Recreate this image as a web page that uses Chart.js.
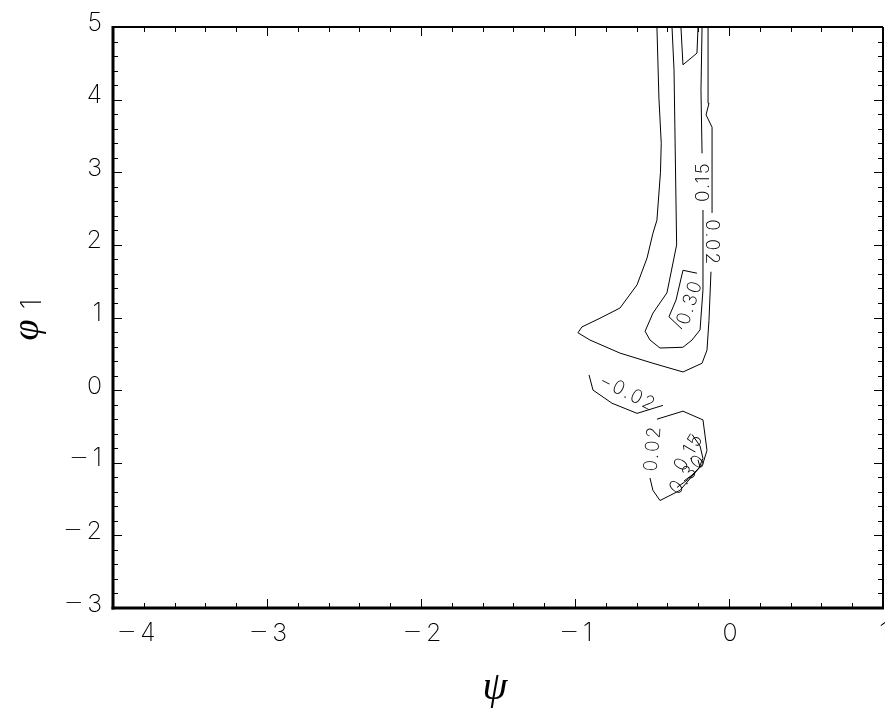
<!DOCTYPE html>
<html>
<head>
<meta charset="utf-8">
<script src="https://cdn.jsdelivr.net/npm/chart.js@4"></script>
<style>
  html, body { margin: 0; padding: 0; background: #fff; }
  canvas { display: block; }
</style>
</head>
<body>
<canvas id="contourChart" width="885" height="713"></canvas>
<script>
// axis ticks
const xTickValues = [-4, -3, -2, -1, 0, 1];
const xTickLabels = ['\u22124', '\u22123', '\u22122', '\u22121', '0', '1'];
const yTickValues = [-3, -2, -1, 0, 1, 2, 3, 4, 5];
const yTickLabels = ['\u22123', '\u22122', '\u22121', '0', '1', '2', '3', '4', '5'];

// outer 0.02 contour, split where its label sits
const c002RightX = [-0.110, -0.110, -0.149, -0.130, -0.136];
const c002RightY = [2.44, 3.62, 3.79, 3.95, 5.00];
const c002MainX = [-0.468, -0.455, -0.440, -0.445, -0.468, -0.494, -0.532, -0.597, -0.708, -0.838, -0.955, -0.981, -0.903, -0.708, -0.494, -0.299, -0.175, -0.143, -0.130, -0.117];
const c002MainY = [5.00, 4.02, 3.40, 3.00, 2.34, 2.16, 1.82, 1.45, 1.13, 0.99, 0.87, 0.79, 0.69, 0.51, 0.37, 0.25, 0.37, 0.55, 0.96, 1.63];

// 0.15 contour
const c015RightX = [-0.175, -0.182, -0.175];
const c015RightY = [3.26, 4.13, 5.00];
const c015MainX = [-0.370, -0.357, -0.340, -0.403, -0.494, -0.545, -0.513, -0.448, -0.299, -0.240, -0.188, -0.169, -0.169];
const c015MainY = [5.00, 4.41, 2.00, 1.34, 1.06, 0.81, 0.69, 0.58, 0.59, 0.69, 0.83, 1.38, 2.48];

// 0.30 contours
const c030TopX = [-0.312, -0.299, -0.208, -0.201];
const c030TopY = [5.00, 4.48, 4.64, 5.00];
const c030LoopX = [-0.208, -0.299, -0.344, -0.390, -0.305];
const c030LoopY = [1.61, 1.65, 1.24, 1.01, 0.84];

// -0.02 contour
const cm002X = [-0.909, -0.883, -0.760, -0.597, -0.429];
const cm002Y = [0.21, 0.00, -0.18, -0.32, -0.21];

// lower island
const c002LowX = [-0.468, -0.299, -0.169, -0.143, -0.169, -0.318, -0.448, -0.494, -0.513];
const c002LowY = [-0.40, -0.29, -0.41, -0.83, -1.01, -1.38, -1.52, -1.38, -1.21];
const c015LowX = [-0.240, -0.188, -0.169, -0.195, -0.266, -0.338];
const c015LowY = [-0.61, -0.77, -0.94, -1.07, -1.23, -1.34];
const c030LowX = [-0.201, -0.188, -0.240, -0.292];
const c030LowY = [-0.96, -1.06, -1.17, -1.25];

// contour labels
const labelTexts = ['0.15', '0.02', '0.30', '\u22120.02', '0.02', '0.15', '0.30'];
const labelX = [-0.169, -0.110, -0.253, -0.656, -0.494, -0.260, -0.266];
const labelY = [2.87, 2.03, 1.21, -0.04, -0.80, -0.85, -1.16];
const labelAngle = [-90, 90, -72, 27, -85, -60, -50];

const FONT = 'Inter, "DejaVu Sans", sans-serif';
const MINUS_FONT = '200 23px "DejaVu Sans", sans-serif';
const DIGIT_FONT = '200 25px ' + FONT;
const TITLE_FONT = '"Liberation Serif", "DejaVu Serif", serif';
const MINUS_GAP = 4;

function contour(xs, ys) {
    return {
        data: xs.map((v, i) => ({ x: v, y: ys[i] })),
        showLine: true,
        borderColor: '#000',
        borderWidth: 1,
        pointRadius: 0,
        tension: 0,
        fill: false
    };
}

function stroke(ctx, x1, y1, x2, y2) {
    ctx.beginPath();
    ctx.moveTo(x1, y1);
    ctx.lineTo(x2, y2);
    ctx.stroke();
}

// tick labels get a long minus sign from DejaVu, digits from Inter
function tickLabelWidth(ctx, text) {
    const neg = text[0] === '\u2212';
    ctx.font = DIGIT_FONT;
    const dw = ctx.measureText(neg ? text.slice(1) : text).width;
    if (!neg) return dw;
    ctx.font = MINUS_FONT;
    return ctx.measureText('\u2212').width + MINUS_GAP + dw;
}

function drawTickLabel(ctx, text, left, cy) {
    let x = left;
    if (text[0] === '\u2212') {
        ctx.font = MINUS_FONT;
        ctx.fillText('\u2212', x, cy);
        x += ctx.measureText('\u2212').width + MINUS_GAP;
        text = text.slice(1);
    }
    ctx.font = DIGIT_FONT;
    ctx.fillText(text, x, cy);
}

const framePlugin = {
    id: 'frame',
    afterDraw(chart) {
        const { ctx, chartArea: a } = chart;
        const xs = chart.scales.x;
        const ys = chart.scales.y;
        ctx.save();
        ctx.strokeStyle = '#000';
        ctx.fillStyle = '#000';

        // inward ticks, every 0.2
        ctx.lineWidth = 1;
        for (let i = 0; i <= 25; i++) {
            const v = -4 + i * 0.2;
            const major = Math.abs(v - Math.round(v)) < 1e-6;
            const len = major ? 9 : 5;
            const px = Math.round(xs.getPixelForValue(v)) + 0.5;
            stroke(ctx, px, a.bottom, px, a.bottom - len);
            stroke(ctx, px, a.top, px, a.top + len);
        }
        for (let i = 0; i <= 40; i++) {
            const v = -3 + i * 0.2;
            const major = Math.abs(v - Math.round(v)) < 1e-6;
            const len = major ? 9 : 5;
            const py = Math.round(ys.getPixelForValue(v)) + 0.5;
            stroke(ctx, a.left, py, a.left + len, py);
            stroke(ctx, a.right, py, a.right - len, py);
        }

        // frame
        ctx.lineWidth = 2;
        stroke(ctx, a.left, a.top, a.right, a.top);
        stroke(ctx, a.right, a.top, a.right, a.bottom);
        ctx.lineWidth = 3;
        stroke(ctx, a.left, a.top - 1, a.left, a.bottom + 1.5);
        stroke(ctx, a.left - 1.5, a.bottom, a.right + 1, a.bottom);

        // tick labels
        ctx.letterSpacing = '0px';
        ctx.textBaseline = 'middle';
        ctx.textAlign = 'left';
        xTickValues.forEach((v, i) => {
            const w = tickLabelWidth(ctx, xTickLabels[i]);
            let left = xs.getPixelForValue(v) - w / 2 + 1;
            if (left < a.left + 4) left = a.left + 4;
            drawTickLabel(ctx, xTickLabels[i], left, 633);
        });
        yTickValues.forEach((v, i) => {
            const w = tickLabelWidth(ctx, yTickLabels[i]);
            drawTickLabel(ctx, yTickLabels[i], 102 - w, ys.getPixelForValue(v) - 4);
        });

        // axis titles
        ctx.textAlign = 'center';
        ctx.font = 'italic 40px ' + TITLE_FONT;
        ctx.fillText('\u03c8', 495, 688);
        ctx.save();
        ctx.translate(30, 320);
        ctx.rotate(-Math.PI / 2);
        ctx.font = 'italic 38px ' + TITLE_FONT;
        ctx.fillText('\u03c6', -10, -2);
        ctx.font = '200 28px ' + FONT;
        ctx.fillText('1', 16, 3);
        ctx.restore();

        // contour labels
        ctx.font = '200 19px ' + FONT;
        ctx.letterSpacing = '2px';
        labelTexts.forEach((t, i) => {
            ctx.save();
            ctx.translate(xs.getPixelForValue(labelX[i]), ys.getPixelForValue(labelY[i]));
            ctx.rotate(labelAngle[i] * Math.PI / 180);
            ctx.fillText(t, 0, 0);
            ctx.restore();
        });
        ctx.restore();
    }
};

const ctxContour = document.getElementById('contourChart').getContext('2d');

new Chart(ctxContour, {
    type: 'scatter',
    data: {
        datasets: [
            contour(c002RightX, c002RightY),
            contour(c002MainX, c002MainY),
            contour(c015RightX, c015RightY),
            contour(c015MainX, c015MainY),
            contour(c030TopX, c030TopY),
            contour(c030LoopX, c030LoopY),
            contour(cm002X, cm002Y),
            contour(c002LowX, c002LowY),
            contour(c015LowX, c015LowY),
            contour(c030LowX, c030LowY)
        ]
    },
    options: {
        responsive: false,
        animation: false,
        layout: {
            padding: { top: 27, right: 2, left: 0, bottom: 0 }
        },
        plugins: {
            legend: { display: false },
            tooltip: { enabled: false }
        },
        scales: {
            x: {
                type: 'linear',
                min: -4,
                max: 1,
                ticks: { display: false },
                grid: { display: false },
                border: { display: false },
                afterFit: (s) => { s.height = 105; }
            },
            y: {
                type: 'linear',
                min: -3,
                max: 5,
                ticks: { display: false },
                grid: { display: false },
                border: { display: false },
                afterFit: (s) => { s.width = 113; }
            }
        }
    },
    plugins: [framePlugin]
});
</script>
</body>
</html>
